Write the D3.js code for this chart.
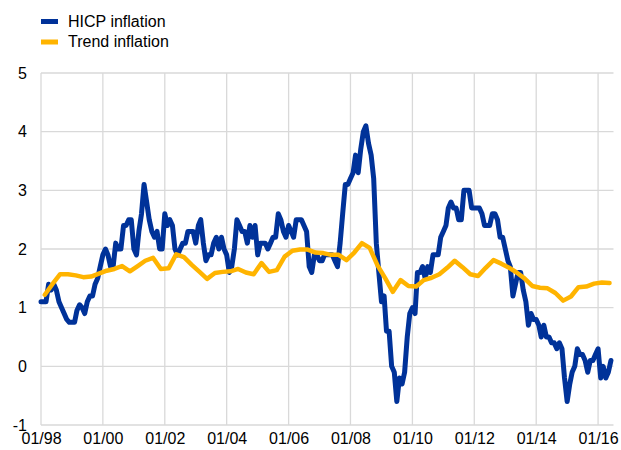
<!DOCTYPE html>
<html>
<head>
<meta charset="utf-8">
<script src="https://cdn.jsdelivr.net/npm/d3@7"></script>
<style>
  html, body { margin: 0; padding: 0; background: #ffffff; }
  svg { display: block; }
  text { font-family: Arial, "Liberation Sans", sans-serif; fill: #000; }
</style>
</head>
<body>
<svg id="chart" width="621" height="450"></svg>
<script>
// ---- data ----
const seriesNames = ["HICP inflation", "Trend inflation"];
const seriesColors = ["#003299", "#FFB400"];
const startYear = 1998;
// monthly HICP inflation, Jan 1998 - Jun 2016 (% y-o-y)
const hicp = [
  1.1, 1.1, 1.1, 1.4, 1.3, 1.4, 1.3, 1.1, 1.0, 0.9, 0.8, 0.75,
  0.75, 0.75, 0.95, 1.05, 1.0, 0.9, 1.1, 1.2, 1.2, 1.4, 1.5, 1.7,
  1.9, 2.0, 1.9, 1.7, 1.7, 2.1, 2.0, 2.0, 2.4, 2.4, 2.5, 2.5,
  2.0, 1.9, 2.3, 2.6, 3.1, 2.8, 2.5, 2.3, 2.2, 2.3, 2.0, 2.0,
  2.6, 2.4, 2.5, 2.4, 2.0, 1.9, 2.0, 2.1, 2.1, 2.3, 2.3, 2.3,
  2.1, 2.4, 2.5, 2.1, 1.8, 1.9, 1.9, 2.1, 2.2, 2.0, 2.2, 2.0,
  1.9, 1.6, 1.7, 2.0, 2.5, 2.4, 2.3, 2.3, 2.1, 2.4, 2.2, 2.4,
  1.9, 2.1, 2.1, 2.1, 2.0, 2.1, 2.2, 2.2, 2.6, 2.5, 2.3, 2.2,
  2.4, 2.3, 2.2, 2.5, 2.5, 2.5, 2.4, 2.3, 1.7, 1.6, 1.9, 1.9,
  1.8, 1.8, 1.9, 1.9, 1.9, 1.9, 1.8, 1.7, 2.1, 2.6, 3.1, 3.1,
  3.2, 3.3, 3.6, 3.3, 3.7, 4.0, 4.1, 3.8, 3.6, 3.2, 2.1, 1.6,
  1.1, 1.2, 0.6, 0.6, 0.0, -0.1, -0.6, -0.2, -0.3, -0.1, 0.5, 0.9,
  1.0, 0.9, 1.6, 1.6, 1.7, 1.5, 1.7, 1.6, 1.9, 1.9, 1.9, 2.2,
  2.3, 2.4, 2.7, 2.8, 2.7, 2.7, 2.5, 2.5, 3.0, 3.0, 3.0, 2.7,
  2.7, 2.7, 2.7, 2.6, 2.4, 2.4, 2.4, 2.6, 2.6, 2.5, 2.2, 2.2,
  2.0, 1.8, 1.7, 1.2, 1.4, 1.6, 1.6, 1.3, 1.1, 0.7, 0.9, 0.8,
  0.8, 0.7, 0.5, 0.7, 0.5, 0.5, 0.4, 0.4, 0.3, 0.4, 0.3, -0.2,
  -0.6, -0.3, -0.1, 0.0, 0.3, 0.2, 0.2, 0.1, -0.1, 0.1, 0.1, 0.2,
  0.3, -0.2, 0.0, -0.2, -0.1, 0.1
];
// quarterly trend inflation, 1998Q1 - 2016Q2 (plotted mid-quarter)
const trend = [
  1.22, 1.40, 1.57, 1.57,
  1.55, 1.52, 1.53, 1.58,
  1.63, 1.66, 1.71, 1.62,
  1.71, 1.80, 1.85, 1.66,
  1.67, 1.91, 1.86, 1.73,
  1.61, 1.49, 1.59, 1.61,
  1.62, 1.66, 1.60, 1.57,
  1.76, 1.61, 1.64, 1.87,
  1.97, 1.99, 1.99, 1.94,
  1.93, 1.90, 1.90, 1.81,
  1.94, 2.10, 2.02, 1.72,
  1.50, 1.27, 1.47, 1.37,
  1.36, 1.47, 1.51, 1.57,
  1.68, 1.80, 1.69, 1.57,
  1.54, 1.68, 1.81, 1.75,
  1.68, 1.60, 1.50, 1.37,
  1.34, 1.33, 1.25, 1.12,
  1.19, 1.35, 1.36, 1.41,
  1.43, 1.42
];
const yTicks = [-1, 0, 1, 2, 3, 4, 5];
const xTickYears = [1998, 2000, 2002, 2004, 2006, 2008, 2010, 2012, 2014, 2016];

// ---- build ----
const hicpData = hicp.map((v, i) => ({ date: new Date(startYear, i, 1), value: v }));
const trendData = trend.map((v, q) => ({ date: new Date(startYear, 3 * q + 1, 15), value: v }));

const svg = d3.select("#chart");
const margin = { left: 41, right: 7.5, top: 73, bottom: 25 };
const W = 621, H = 450;

const x = d3.scaleTime()
  .domain([new Date(1998, 0, 1), new Date(2016, 6, 1)])
  .range([margin.left, W - margin.right]);
const y = d3.scaleLinear()
  .domain([-1, 5])
  .range([H - margin.bottom, margin.top]);

const gridColor = "#d9d9d9";

// horizontal gridlines
svg.append("g")
  .selectAll("line")
  .data(yTicks)
  .join("line")
  .attr("x1", x.range()[0])
  .attr("x2", x.range()[1])
  .attr("y1", d => y(d))
  .attr("y2", d => y(d))
  .attr("stroke", gridColor)
  .attr("stroke-width", 1.3);

// vertical gridlines
const xTickDates = xTickYears.map(yr => new Date(yr, 0, 1));
svg.append("g")
  .selectAll("line")
  .data(xTickDates)
  .join("line")
  .attr("x1", d => x(d))
  .attr("x2", d => x(d))
  .attr("y1", y(5))
  .attr("y2", y(-1))
  .attr("stroke", gridColor)
  .attr("stroke-width", 1.3);

// y axis labels
const yAxis = d3.axisLeft(y).tickValues(yTicks).tickSize(0).tickPadding(14).tickFormat(d => String(d));
const gy = svg.append("g").attr("transform", `translate(${margin.left},0)`).call(yAxis);
gy.select(".domain").remove();
gy.selectAll("text").style("font-size", "16px").style("font-family", "Arial, 'Liberation Sans', sans-serif").attr("fill", "#000");

// x axis labels
const xAxis = d3.axisBottom(x).tickValues(xTickDates).tickSize(0).tickPadding(8).tickFormat(d3.timeFormat("%m/%y"));
const gx = svg.append("g").attr("transform", `translate(0,${y(-1)})`).call(xAxis);
gx.select(".domain").remove();
gx.selectAll("text").style("font-size", "16px").style("font-family", "Arial, 'Liberation Sans', sans-serif").attr("fill", "#000");

// lines
const line = d3.line().x(d => x(d.date)).y(d => y(d.value));
svg.append("path")
  .datum(hicpData)
  .attr("d", line)
  .attr("fill", "none")
  .attr("stroke", seriesColors[0])
  .attr("stroke-width", 5)
  .attr("stroke-linejoin", "round")
  .attr("stroke-linecap", "round");
svg.append("path")
  .datum(trendData)
  .attr("d", line)
  .attr("fill", "none")
  .attr("stroke", seriesColors[1])
  .attr("stroke-width", 4.5)
  .attr("stroke-linejoin", "round")
  .attr("stroke-linecap", "round");

// legend
const legend = svg.append("g");
seriesNames.forEach((name, i) => {
  const cy = 21.5 + i * 20.5;
  legend.append("rect")
    .attr("x", 41).attr("y", cy - 2.5)
    .attr("width", 17).attr("height", 5)
    .attr("fill", seriesColors[i]);
  legend.append("text")
    .attr("x", 68).attr("y", cy + 5)
    .style("font-size", "16px")
    .text(name);
});
</script>
</body>
</html>
